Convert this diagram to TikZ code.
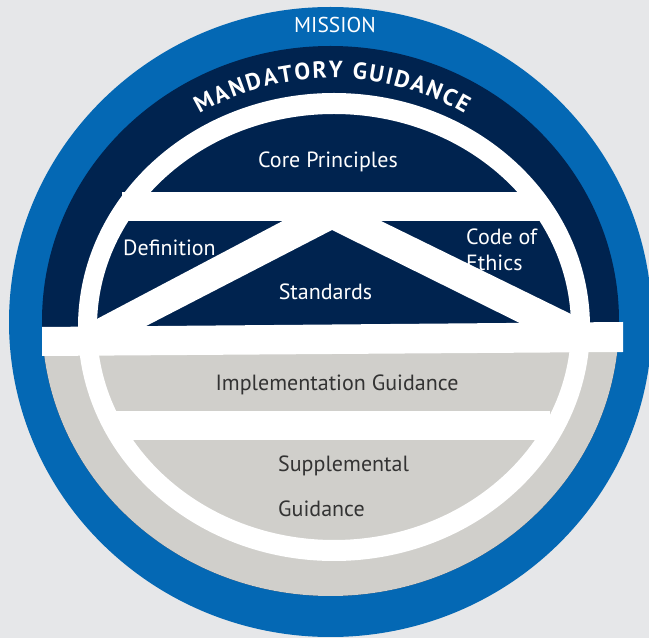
\documentclass[tikz,border=0pt]{standalone}
\usepackage{fontspec}
\setmainfont{PT Sans}
\usetikzlibrary{decorations.text}
\definecolor{bg}{HTML}{E6E7E9}
\definecolor{iiablue}{HTML}{0468B4}
\definecolor{navy}{HTML}{00234F}
\definecolor{stone}{HTML}{D0CFCB}
\definecolor{ink}{HTML}{333333}
\begin{document}
\begin{tikzpicture}[x=1pt,y=1pt,
  lbl/.style={font=\fontsize{22}{24}\selectfont, text=white, inner sep=0pt},
  dark/.style={lbl, text=ink},
  band/.style={fill=white, draw=none}]
\useasboundingbox (0,0) rectangle (649,638);
\fill[bg] (0,0) rectangle (649,638);
% outer blue disc
\begin{scope}
  \clip (0,0) rectangle (649,638);
  \fill[iiablue] (330.5,316) ellipse [x radius=321.5, y radius=315];
\end{scope}
% navy disc, grey lower part
\fill[navy] (330.5,317) ellipse [x radius=288.5, y radius=275];
\begin{scope}
  \clip (0,0) rectangle (649,298);
  \fill[stone] (330.5,317) ellipse [x radius=288.5, y radius=275];
\end{scope}
% labels
\node[lbl, anchor=base, font=\fontsize{21.5}{22}\selectfont] (mission) at (335,605) {MISSION};
\node[lbl, anchor=base] (core) at (328,470) {Core Principles};
\node[lbl, anchor=base west] (defn) at (123,382) {Definition};
\node[lbl, anchor=base west] (code) at (466,393) {Code of};
\node[lbl, anchor=base west] (ethics) at (466,367) {Ethics};
\node[lbl, anchor=base] (std) at (325.5,338) {Standards};
\node[dark, anchor=base] (impl) at (337,247) {Implementation Guidance};
\node[dark, anchor=base west] (supp) at (278,166) {Supplemental};
\node[dark, anchor=base west] (guid) at (278,121) {Guidance};
% curved title
\path[decorate, decoration={text along path, text align=center, text color=white,
  text={|\fontsize{23.5}{24}\selectfont\bfseries|{M\kern1.8pt}{A\kern1.8pt}{N\kern1.8pt}{D\kern1.8pt}{A\kern1.8pt}{T\kern1.8pt}{O\kern1.8pt}{R\kern1.8pt}{Y\kern1.8pt}{\ \kern1.8pt}{G\kern1.8pt}{U\kern1.8pt}{I\kern1.8pt}{D\kern1.8pt}{A\kern1.8pt}{N\kern1.8pt}{C\kern1.8pt}{E}}}]
  (185.7,515.3) arc[start angle=125, end angle=55, x radius=255, y radius=247];
% white ring
\fill[white, even odd rule] (334,311) ellipse [x radius=256, y radius=234]
  (334,311) ellipse [x radius=237, y radius=213];
% top bar
\fill[band] (122,417) rectangle (542,446);
% roof bars
\begin{scope}
  \clip (334,311) ellipse [x radius=256, y radius=234];
  \fill[band] (330,442) -- (624,298) -- (554,298) -- (332,408) -- (119,298) -- (57,298) -- cycle;
\end{scope}
% main bar
\fill[band] (42,311) -- (623,316) -- (623,286) -- (42,282) -- cycle;
% lower bar
\fill[band] (115,198) rectangle (550,227);
\end{tikzpicture}
\end{document}
